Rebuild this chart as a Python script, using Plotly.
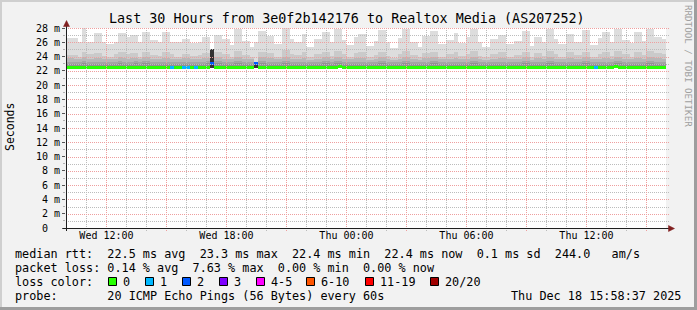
import plotly.graph_objects as go
import pandas as pd

# ---------------- data (values in ms) ----------------
START = "2025-12-17 09:58:37"
END = "2025-12-18 15:58:37"
FIRST_BAR = "2025-12-17 10:00:00"
STEP_MIN = 12

p20 = [26.6,26.6,26.6,26.0,28.0,26.0,26.0,27.3,27.3,26.0,
       25.8,25.8,26.0,27.3,27.3,26.8,27.0,27.0,26.0,27.4,
       27.4,26.3,26.3,26.0,27.4,27.4,26.1,26.0,26.0,26.5,
       26.5,25.9,25.9,26.0,26.7,26.7,25.0,27.0,27.0,26.4,
       26.4,25.6,27.8,27.8,26.2,26.2,25.4,26.0,27.6,27.6,
       26.9,26.9,25.8,25.8,28.0,28.0,26.5,26.0,26.0,27.2,
       25.3,25.3,26.4,26.4,27.5,27.5,26.0,27.9,27.9,26.3,
       25.6,25.6,26.8,27.1,27.1,25.5,25.5,26.2,27.7,27.7,
       26.0,25.2,25.2,26.6,27.9,27.9,26.1,26.1,25.4,26.9,
       26.9,27.6,27.6,25.7,25.7,26.3,26.3,27.3,25.9,25.9,
       26.7,27.8,27.8,26.0,25.3,25.3,26.5,26.5,27.0,27.0,
       25.8,25.8,26.2,26.2,27.6,27.6,25.5,26.8,26.8,26.0,
       27.9,27.9,26.4,25.7,25.7,27.2,27.2,26.1,26.1,27.7,
       27.7,25.6,25.6,26.6,27.4,27.4,26.0,27.8,27.8,26.3,
       26.3,25.9,27.5,27.5,26.2,27.9,27.9,26.7,26.7,26.5]
p19 = [24.2,24.2,24.2,24.0,24.6,24.3,24.3,24.5,24.5,24.1,
       24.0,24.0,24.3,24.6,24.6,24.4,24.5,24.5,24.0,24.7,
       24.7,24.2,24.2,24.1,24.6,24.6,24.3,24.0,24.0,24.4,
       24.4,24.1,24.1,24.2,24.5,24.5,25.0,24.6,24.6,24.3,
       24.3,24.0,24.8,24.8,24.2,24.2,24.0,23.1,24.7,24.7,
       24.5,24.5,24.0,24.0,24.9,24.9,24.4,24.2,24.2,24.6,
       23.9,23.9,24.3,24.3,24.7,24.7,24.1,24.8,24.8,24.3,
       24.0,24.0,24.5,24.6,24.6,23.9,23.9,24.2,24.7,24.7,
       24.1,23.8,23.8,24.4,24.8,24.8,24.2,24.2,23.9,24.5,
       24.5,24.7,24.7,24.0,24.0,24.3,24.3,24.6,24.1,24.1,
       24.4,24.8,24.8,24.1,23.9,23.9,24.4,24.4,24.6,24.6,
       24.0,24.0,24.2,24.2,24.7,24.7,23.9,24.5,24.5,24.1,
       24.8,24.8,24.3,24.0,24.0,24.6,24.6,24.2,24.2,24.7,
       24.7,24.0,24.0,24.4,24.6,24.6,24.1,24.8,24.8,24.3,
       24.3,24.0,24.6,24.6,24.2,24.8,24.8,24.5,24.5,24.4]
p18 = [23.8,23.8,23.7,23.6,23.9,23.7,23.7,23.8,23.8,23.6,
       23.6,23.7,23.7,23.9,23.8,23.7,23.8,23.8,23.6,23.9,
       23.9,23.7,23.7,23.6,23.8,23.8,23.7,23.6,23.6,23.8,
       23.8,23.6,23.6,23.7,23.8,23.8,25.0,23.9,23.9,23.7,
       23.7,23.6,23.9,23.9,23.7,23.7,23.6,23.1,23.9,23.9,
       23.8,23.8,23.6,23.6,24.0,24.0,23.7,23.7,23.7,23.8,
       23.5,23.5,23.7,23.7,23.9,23.9,23.6,24.0,24.0,23.7,
       23.6,23.6,23.8,23.8,23.8,23.5,23.5,23.7,23.9,23.9,
       23.6,23.5,23.5,23.7,23.9,23.9,23.7,23.7,23.5,23.8,
       23.8,23.9,23.9,23.6,23.6,23.7,23.7,23.8,23.6,23.6,
       23.7,23.9,23.9,23.6,23.5,23.5,23.7,23.7,23.8,23.8,
       23.6,23.6,23.7,23.7,23.9,23.9,23.5,23.8,23.8,23.6,
       23.9,23.9,23.7,23.6,23.6,23.8,23.8,23.7,23.7,23.9,
       23.9,23.6,23.6,23.7,23.8,23.8,23.6,23.9,23.9,23.7,
       23.7,23.6,23.8,23.8,23.7,23.9,23.9,23.8,23.8,23.7]
p17 = [23.3,23.3,23.2,23.2,23.4,23.3,23.3,23.3,23.3,23.2,
       23.2,23.3,23.3,23.4,23.3,23.3,23.3,23.4,23.2,23.4,
       23.4,23.3,23.2,23.2,23.3,23.3,23.3,23.2,23.2,23.3,
       23.3,23.2,23.2,23.3,23.3,23.4,25.0,23.4,23.4,23.3,
       23.3,23.2,23.4,23.4,23.3,23.3,23.2,23.1,23.4,23.4,
       23.3,23.3,23.2,23.2,23.4,23.4,23.3,23.3,23.2,23.3,
       23.2,23.2,23.3,23.3,23.4,23.4,23.2,23.4,23.4,23.3,
       23.2,23.2,23.3,23.3,23.3,23.2,23.2,23.3,23.4,23.4,
       23.2,23.2,23.2,23.3,23.4,23.4,23.3,23.3,23.2,23.3,
       23.3,23.4,23.4,23.2,23.2,23.3,23.3,23.3,23.2,23.2,
       23.3,23.4,23.4,23.2,23.2,23.2,23.3,23.3,23.3,23.3,
       23.2,23.2,23.3,23.3,23.4,23.4,23.2,23.3,23.3,23.2,
       23.4,23.4,23.3,23.2,23.2,23.3,23.3,23.3,23.3,23.4,
       23.4,23.2,23.2,23.3,23.3,23.3,23.2,23.4,23.4,23.3,
       23.3,23.2,23.3,23.3,23.3,23.4,23.4,23.3,23.3,23.3]
p16 = [23.0,23.0,22.9,22.9,23.1,23.0,23.0,23.0,23.0,22.9,
       22.9,23.0,23.0,23.1,23.0,23.0,23.0,23.1,22.9,23.1,
       23.1,23.0,22.9,22.9,23.0,23.0,23.0,22.9,22.9,23.0,
       23.0,22.9,22.9,23.0,23.0,23.1,25.0,23.1,23.1,23.0,
       23.0,22.9,23.1,23.1,23.0,23.0,22.9,23.1,23.1,23.1,
       23.0,23.0,22.9,22.9,23.1,23.1,23.0,23.0,22.9,23.0,
       22.9,22.9,23.0,23.0,23.1,23.1,22.9,23.1,23.1,23.0,
       22.9,22.9,23.0,23.0,23.0,22.9,22.9,23.0,23.1,23.1,
       22.9,22.9,22.9,23.0,23.1,23.1,23.0,23.0,22.9,23.0,
       23.0,23.1,23.1,22.9,22.9,23.0,23.0,23.0,22.9,22.9,
       23.0,23.1,23.1,22.9,22.9,22.9,23.0,23.0,23.0,23.0,
       22.9,22.9,23.0,23.0,23.1,23.1,22.9,23.0,23.0,22.9,
       23.1,23.1,23.0,22.9,22.9,23.0,23.0,23.0,23.0,23.1,
       23.1,22.9,22.9,23.0,23.0,23.0,22.9,23.1,23.1,23.0,
       23.0,22.9,23.0,23.0,23.0,23.1,23.1,23.0,23.0,23.0]
p11 = [22.6,22.6,22.6,22.6,22.6,22.6,22.6,22.6,22.6,22.6,
       22.6,22.6,22.6,22.6,22.6,22.6,22.6,22.6,22.6,22.6,
       22.6,22.6,22.6,22.6,22.6,22.6,22.6,22.6,22.6,22.6,
       22.6,22.6,22.6,22.6,22.6,22.6,25.0,22.6,22.6,22.6,
       22.6,22.6,22.6,22.6,22.6,22.6,22.6,23.1,22.6,22.6,
       22.6,22.6,22.6,22.6,22.6,22.6,22.6,22.6,22.6,22.6,
       22.6,22.6,22.6,22.6,22.6,22.6,22.6,22.6,22.6,22.6,
       22.6,22.6,22.6,22.6,22.6,22.6,22.6,22.6,22.6,22.6,
       22.6,22.6,22.6,22.6,22.6,22.6,22.6,22.6,22.6,22.6,
       22.6,22.6,22.6,22.6,22.6,22.6,22.6,22.6,22.6,22.6,
       22.6,22.6,22.6,22.6,22.6,22.6,22.6,22.6,22.6,22.6,
       22.6,22.6,22.6,22.6,22.6,22.6,22.6,22.6,22.6,22.6,
       22.6,22.6,22.6,22.6,22.6,22.6,22.6,22.6,22.6,22.6,
       22.6,22.6,22.6,22.6,22.6,22.6,22.6,22.6,22.6,22.6,
       22.6,22.6,22.6,22.6,22.6,22.6,22.6,22.6,22.6,22.6]
p1 = [22.4,22.4,22.4,22.4,22.4,22.4,22.4,22.4,22.4,22.4,
      22.4,22.4,22.4,22.4,22.4,22.4,22.4,22.4,22.4,22.4,
      22.4,22.4,22.4,22.4,22.4,22.4,22.4,22.4,22.4,22.4,
      22.4,22.4,22.4,22.4,22.4,22.4,22.4,22.4,22.4,22.4,
      22.4,22.4,22.4,22.4,22.4,22.4,22.4,22.4,22.4,22.4,
      22.4,22.4,22.4,22.4,22.4,22.4,22.4,22.4,22.4,22.4,
      22.4,22.4,22.4,22.4,22.4,22.4,22.4,22.4,22.4,22.4,
      22.4,22.4,22.4,22.4,22.4,22.4,22.4,22.4,22.4,22.4,
      22.4,22.4,22.4,22.4,22.4,22.4,22.4,22.4,22.4,22.4,
      22.4,22.4,22.4,22.4,22.4,22.4,22.4,22.4,22.4,22.4,
      22.4,22.4,22.4,22.4,22.4,22.4,22.4,22.4,22.4,22.4,
      22.4,22.4,22.4,22.4,22.4,22.4,22.4,22.4,22.4,22.4,
      22.4,22.4,22.4,22.4,22.4,22.4,22.4,22.4,22.4,22.4,
      22.4,22.4,22.4,22.4,22.4,22.4,22.4,22.4,22.4,22.4,
      22.4,22.4,22.4,22.4,22.4,22.4,22.4,22.4,22.4,22.4]
median = [22.5,22.5,22.5,22.5,22.5,22.5,22.5,22.5,22.5,22.5,
          22.5,22.5,22.5,22.5,22.5,22.5,22.5,22.5,22.5,22.5,
          22.5,22.5,22.5,22.5,22.5,22.5,22.5,22.5,22.5,22.5,
          22.5,22.5,22.5,22.5,22.5,22.5,23.0,22.5,22.5,22.5,
          22.5,22.5,22.5,22.5,22.5,22.5,22.5,23.1,22.5,22.5,
          22.5,22.5,22.5,22.5,22.5,22.5,22.5,22.5,22.5,22.5,
          22.5,22.5,22.5,22.5,22.5,22.5,22.5,22.5,22.6,22.5,
          22.5,22.5,22.5,22.5,22.5,22.5,22.5,22.5,22.5,22.5,
          22.5,22.5,22.5,22.5,22.5,22.5,22.5,22.5,22.5,22.5,
          22.5,22.5,22.5,22.5,22.5,22.5,22.5,22.5,22.5,22.5,
          22.5,22.5,22.5,22.5,22.5,22.5,22.5,22.5,22.5,22.5,
          22.5,22.5,22.5,22.5,22.5,22.5,22.5,22.5,22.5,22.5,
          22.5,22.5,22.5,22.5,22.5,22.5,22.5,22.5,22.5,22.5,
          22.5,22.5,22.5,22.5,22.5,22.5,22.5,22.6,22.5,22.5,
          22.5,22.5,22.5,22.5,22.5,22.5,22.5,22.5,22.5,22.5]
loss = [0,0,0,0,0,0,0,0,0,0,
        0,0,0,0,0,0,0,0,0,0,
        0,0,0,0,0,0,1,0,0,1,
        1,0,1,0,0,0,2,0,0,0,
        0,0,0,0,0,0,0,2,0,0,
        0,0,0,0,0,0,0,0,0,0,
        0,0,0,0,0,0,0,0,0,0,
        0,0,0,0,0,0,0,0,0,0,
        0,0,0,0,0,0,0,0,0,0,
        0,0,0,0,0,0,0,0,0,0,
        0,0,0,0,0,0,0,0,0,0,
        0,0,0,0,0,0,0,0,0,0,
        0,0,0,0,0,0,0,0,0,0,
        0,0,1,0,0,0,0,0,0,0,
        0,0,0,0,0,0,0,0,0,0]

y_ticks = [0, 2, 4, 6, 8, 10, 12, 14, 16, 18, 20, 22, 24, 26, 28]
y_ticktext = ["0\u00a0\u00a0"] + [f"{v} m" for v in y_ticks[1:]]
y_minor = [1, 3, 5, 7, 9, 11, 13, 15, 17, 19, 21, 23, 25, 27]

loss_labels = ["0", "1", "2", "3", "4-5", "6-10", "11-19", "20/20"]
loss_colors = ["#26ff00", "#00b8ff", "#0059ff", "#7e00ff", "#ff00ff", "#ff5500", "#ff0000", "#a00000"]

title_text = "Last 30 Hours from 3e0f2b142176 to Realtox Media (AS207252)"
stats_rtt = "median rtt:  22.5 ms avg  23.3 ms max  22.4 ms min  22.4 ms now  0.1 ms sd  244.0   am/s"
stats_loss = "packet loss: 0.14 % avg  7.63 % max  0.00 % min  0.00 % now"
probe_text = "probe:       20 ICMP Echo Pings (56 Bytes) every 60s"
stamp_text = "Thu Dec 18 15:58:37 2025"

# ---------------- layout geometry ----------------
W, H = 697, 310
PL, PR, PT, PB = 66, 666, 28, 228
MONO = "DejaVu Sans Mono"
MGRID = "#ee9f9f"
GRID = "#bcbcbc"
YMAX = 28


def px(x):
    return (x - PL) / (PR - PL)


def py(y):
    return (PB - y) / (PB - PT)


def nb(s):
    return s.replace(" ", "\u00a0")


n = len(p20)
t0 = pd.Timestamp(FIRST_BAR)
t_start, t_end = pd.Timestamp(START), pd.Timestamp(END)
centers = [t0 + pd.Timedelta(minutes=STEP_MIN * i + STEP_MIN / 2) for i in range(n)]
bar_w = STEP_MIN * 60 * 1000

hours = pd.date_range("2025-12-17 10:00", "2025-12-18 15:00", freq="1h")
x_major = [h for h in hours if h.hour % 3 == 0]
x_minor = [h for h in hours if h.hour % 3 != 0]
x_labels = [h for h in hours if h.hour % 6 == 0]


def tpix(t):  # time -> pixel column centre (rrdtool snaps grid to pixels)
    return round(PL + (t - t_start) / (t_end - t_start) * (PR - PL)) + 0.5


def vpix(v):
    return round(PB - v / YMAX * (PB - PT)) + 0.5


fig = go.Figure()

layers = [(p20, "#dddddd"), (p19, "#cacaca"), (p18, "#b7b7b7"),
          (p17, "#a4a4a4"), (p16, "#919191"), (p11, "#323232")]
for top, col in layers:
    fig.add_trace(go.Bar(
        x=centers, base=p1, y=[t - b for t, b in zip(top, p1)],
        width=bar_w, marker=dict(color=col, line=dict(width=0)),
        hoverinfo="skip", showlegend=False))

line_h = 3 * YMAX / (PB - PT)  # LINE3 thickness in data units
med_cols = [loss_colors[min(l, len(loss_colors) - 1)] for l in loss]
fig.add_trace(go.Bar(
    x=centers, base=[m - line_h / 2 for m in median], y=[line_h] * n,
    width=bar_w, marker=dict(color=med_cols, line=dict(width=0)),
    hoverinfo="skip", showlegend=False))

tickfont = dict(family=MONO, size=10, color="black")

fig.update_layout(
    width=W, height=H, autosize=False,
    margin=dict(l=PL, r=W - PR, t=PT, b=H - PB, pad=0),
    paper_bgcolor="#f2f2f2", plot_bgcolor="#ffffff",
    barmode="overlay", bargap=0, showlegend=False,
    xaxis=dict(type="date", range=[START, END],
               tickmode="array", tickvals=x_labels,
               tickformat="%a %H:%M", tickfont=tickfont,
               showgrid=False, ticks="", showline=False, zeroline=False, fixedrange=True),
    yaxis=dict(range=[0, YMAX], tickmode="array", tickvals=y_ticks,
               ticktext=y_ticktext, tickfont=tickfont, showgrid=False,
               ticks="outside", ticklen=3, tickcolor="#555555", tickwidth=1,
               minor=dict(tickmode="array", tickvals=y_minor, ticks="outside",
                          ticklen=2, tickcolor="#b0b0b0", showgrid=False),
               showline=False, zeroline=False, fixedrange=True),
)

shapes = []
# grid (dotted, drawn over the smoke like rrdtool)
for v in y_minor:
    shapes.append(dict(type="line", xref="paper", yref="paper", x0=px(PL), x1=px(PR + 3),
                       y0=py(vpix(v)), y1=py(vpix(v)),
                       line=dict(color=GRID, width=1, dash="1px,1px"), layer="above"))
for t in x_minor:
    shapes.append(dict(type="line", xref="paper", yref="paper", x0=px(tpix(t)), x1=px(tpix(t)),
                       y0=py(PT), y1=py(PB + 3),
                       line=dict(color=GRID, width=1, dash="1px,1px"), layer="above"))
for v in y_ticks[1:]:
    shapes.append(dict(type="line", xref="paper", yref="paper", x0=px(PL), x1=px(PR + 3),
                       y0=py(vpix(v)), y1=py(vpix(v)),
                       line=dict(color=MGRID, width=1, dash="1px,1px"), layer="above"))
for t in x_major:
    shapes.append(dict(type="line", xref="paper", yref="paper", x0=px(tpix(t)), x1=px(tpix(t)),
                       y0=py(PT), y1=py(PB + 3),
                       line=dict(color=MGRID, width=1, dash="1px,1px"), layer="above"))

# 3d border
shapes.append(dict(type="rect", xref="paper", yref="paper", x0=px(0), x1=px(W), y0=py(0), y1=py(2),
                   fillcolor="#cfcfcf", line=dict(width=0), layer="above"))
shapes.append(dict(type="rect", xref="paper", yref="paper", x0=px(0), x1=px(2), y0=py(0), y1=py(H),
                   fillcolor="#cfcfcf", line=dict(width=0), layer="above"))
shapes.append(dict(type="rect", xref="paper", yref="paper", x0=px(W - 3), x1=px(W), y0=py(0), y1=py(H),
                   fillcolor="#9e9e9e", line=dict(width=0), layer="above"))
shapes.append(dict(type="rect", xref="paper", yref="paper", x0=px(0), x1=px(W), y0=py(H - 3), y1=py(H),
                   fillcolor="#9e9e9e", line=dict(width=0), layer="above"))
# axes lines
shapes.append(dict(type="line", xref="paper", yref="paper", x0=px(63), x1=px(669), y0=py(228.5), y1=py(228.5),
                   line=dict(color="#1f1f1f", width=1), layer="above"))
shapes.append(dict(type="line", xref="paper", yref="paper", x0=px(66.5), x1=px(66.5), y0=py(231), y1=py(26),
                   line=dict(color="#1f1f1f", width=1), layer="above"))


def tri(pts):
    return "M " + " L ".join(f"{px(a)},{py(b)}" for a, b in pts) + " Z"


# arrow heads
shapes.append(dict(type="path", xref="paper", yref="paper",
                   path=tri([(66.5, 20.5), (63.5, 26.5), (69.5, 26.5)]),
                   fillcolor="#801f1f", line=dict(color="#801f1f", width=0.5), layer="above"))
shapes.append(dict(type="path", xref="paper", yref="paper",
                   path=tri([(674.5, 228.5), (668.5, 225.5), (668.5, 231.5)]),
                   fillcolor="#801f1f", line=dict(color="#801f1f", width=0.5), layer="above"))

# loss colour swatches
box_x = [108.5, 145.5, 182.5, 219.5, 256.5, 306.5, 365.5, 430.5]
for bx, col in zip(box_x, loss_colors):
    shapes.append(dict(type="rect", xref="paper", yref="paper", x0=px(bx), x1=px(bx + 8),
                       y0=py(277.5), y1=py(285.5), fillcolor=col,
                       line=dict(color="black", width=1), layer="above"))
fig.update_layout(shapes=shapes)

ann = []


def text(x, y, s, size=11.8, xanchor="left", color="black", angle=0):
    ann.append(dict(x=px(x), y=py(y), xref="paper", yref="paper", text=nb(s), showarrow=False,
                    xanchor=xanchor, yanchor="middle", textangle=angle,
                    font=dict(family=MONO, size=size, color=color), borderpad=0, borderwidth=0))


text(347, 18.5, title_text, size=13.4, xanchor="center")
text(15, 254, stats_rtt)
text(15, 268, stats_loss)
text(15, 282, "loss color:")
label_x = [122.5, 159.5, 196.5, 233.5, 270.5, 320.5, 379.5, 444.5]
for lx, lab in zip(label_x, loss_labels):
    text(lx, 282, lab)
text(15, 296, probe_text)
text(681, 296, stamp_text, xanchor="right")
text(10, 127, "Seconds", size=11.5, xanchor="center", angle=-90)
text(688, 66, "RRDTOOL / TOBI OETIKER", size=9.2, xanchor="center", color="#a0a0a0", angle=90)
fig.update_layout(annotations=ann)

fig.write_html("out.html")
